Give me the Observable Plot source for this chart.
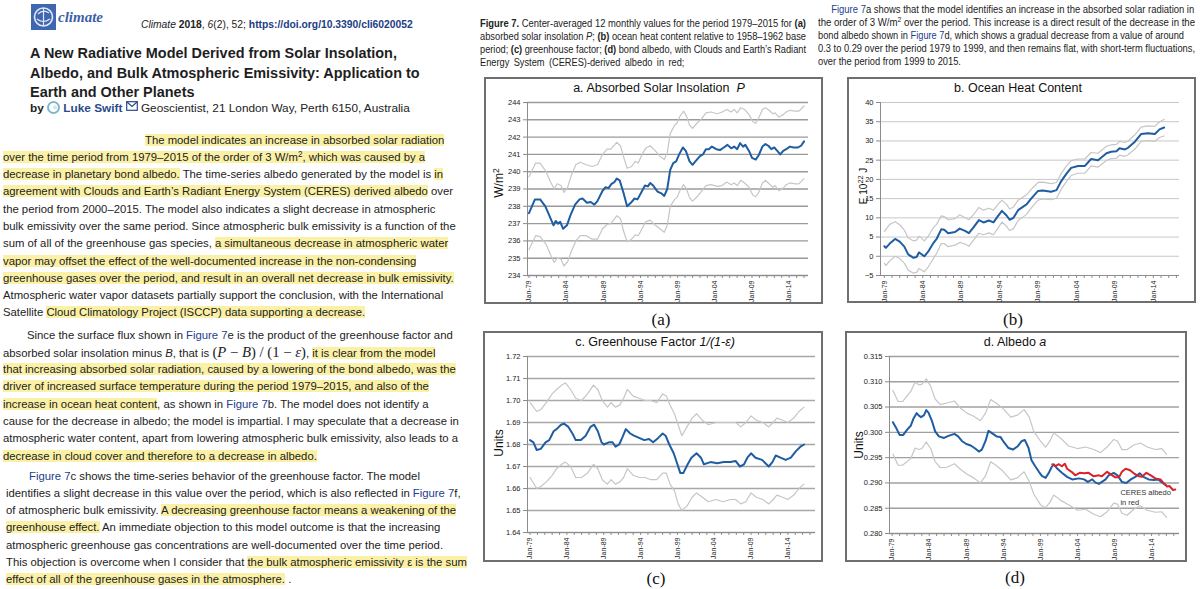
<!DOCTYPE html>
<html><head><meta charset="utf-8">
<script src="https://cdn.jsdelivr.net/npm/d3@7"></script>
<script src="https://cdn.jsdelivr.net/npm/@observablehq/plot@0.6"></script>
<style>
html,body{margin:0;padding:0;background:#fff;}
body{width:1200px;height:589px;position:relative;overflow:hidden;font-family:"Liberation Sans",Arial,sans-serif;color:#222;}
.abs{position:absolute;}
.col{position:absolute;left:0;top:0;width:475px;height:589px;overflow:hidden;}
.body{position:absolute;left:0;top:0;width:475px;font-size:13.5px;}
.p{position:absolute;}
.ln{white-space:nowrap;height:17.3px;line-height:17.3px;}
.t{display:inline-block;}
.hl{background:#fbf1a6;}
.fig{color:#23408e;}
sup{font-size:0.72em;vertical-align:0.5em;line-height:0;}
.m{font-family:"Liberation Serif","DejaVu Serif",serif;font-size:1.3em;}
.cap{position:absolute;font-size:10px;color:#222;}
.cap .cl{white-space:nowrap;height:13.1px;line-height:13.1px;transform-origin:0 50%;}
.box{position:absolute;border:2px solid #6f6f6f;box-sizing:border-box;background:#fff;}
.chart{position:absolute;}
.ttl{position:absolute;width:320px;text-align:center;font-size:12.5px;white-space:nowrap;transform:translate(-50%,-50%);color:#111;}
.ylab{position:absolute;white-space:nowrap;transform:translate(-50%,-50%) rotate(-90deg);color:#111;}
.sub{position:absolute;font-family:"Liberation Serif","DejaVu Serif",serif;font-size:17px;transform:translate(-50%,-50%);color:#111;}
</style></head>
<body>
<div class="col">
  <svg class="abs" style="left:31px;top:4px" width="25" height="26" viewBox="0 0 25 26">
    <rect x="0" y="0" width="25" height="26" fill="#3f66b0"/>
    <circle cx="12.5" cy="13" r="9" fill="none" stroke="#dfe8f6" stroke-width="1.6"/>
    <path d="M7 10 Q12 5 18 9 M6 15 Q12 20 19 15 M12.5 4 L12.5 22" fill="none" stroke="#dfe8f6" stroke-width="1.2"/>
  </svg>
  <div class="abs" style="left:58px;top:9px;font-family:'Liberation Serif',serif;font-style:italic;font-weight:bold;font-size:15px;color:#3b5fa6;">climate</div>
  <div class="abs" id="cite" style="left:141px;top:19px;font-size:11px;white-space:nowrap;"><span class="t" id="citeR"><i>Climate</i> <b>2018</b>, <i>6</i>(2), 52; <b style="color:#213d85">https://doi.org/10.3390/cli6020052</b></span></div>
  <div class="abs" id="title" style="left:30px;top:44px;font-weight:bold;font-size:16.5px;line-height:19.5px;white-space:nowrap;color:#1e1e1e;">
    <span class="t" id="titleR">A New Radiative Model Derived from Solar Insolation,</span><br>
    Albedo, and Bulk Atmospheric Emissivity: Application to<br>
    Earth and Other Planets
  </div>
  <div class="abs" id="by" style="left:30px;top:101px;font-size:13px;white-space:nowrap;"><span class="t" id="byR"><b>by</b> <svg width="13" height="13" viewBox="0 0 13 13" style="vertical-align:-2px"><circle cx="6.5" cy="6.5" r="5.5" fill="none" stroke="#7fb8c9" stroke-width="2"/><circle cx="8" cy="6.5" r="2" fill="#cfe6ee"/></svg> <b style="color:#2a4a8c">Luke Swift</b> <svg width="12" height="10" viewBox="0 0 12 10" style="vertical-align:1px"><rect x="0.7" y="0.7" width="10.6" height="8.6" fill="none" stroke="#2a4a8c" stroke-width="1.2"/><path d="M0.7 0.7 L6 5.5 L11.3 0.7" fill="none" stroke="#2a4a8c" stroke-width="1.2"/></svg> Geoscientist, 21 London Way, Perth 6150, Australia</span></div>

  <div class="body" id="bodytext">
    <div class="p" style="left:3px;top:131.5px">
      <div class="ln" style="padding-left:142px"><span class="hl">The model indicates an increase in absorbed solar radiation</span></div>
      <div class="ln"><span class="hl">over the time period from 1979–2015 of the order of 3 W/m<sup>2</sup>, which was caused by a</span></div>
      <div class="ln"><span class="hl">decrease in planetary bond albedo.</span> The time-series albedo generated by the model is <span class="hl">in</span></div>
      <div class="ln"><span class="hl">agreement with Clouds and Earth’s Radiant Energy System (CERES) derived albedo</span> over</div>
      <div class="ln">the period from 2000–2015. The model also indicates a slight decrease in atmospheric</div>
      <div class="ln"><span class="t" id="bodyR">bulk emissivity over the same period. Since atmospheric bulk emissivity is a function of the</span></div>
      <div class="ln">sum of all of the greenhouse gas species, <span class="hl">a simultaneous decrease in atmospheric water</span></div>
      <div class="ln"><span class="hl">vapor may offset the effect of the well-documented increase in the non-condensing</span></div>
      <div class="ln"><span class="hl">greenhouse gases over the period, and result in an overall net decrease in bulk emissivity.</span></div>
      <div class="ln">Atmospheric water vapor datasets partially support the conclusion, with the International</div>
      <div class="ln">Satellite <span class="hl">Cloud Climatology Project (ISCCP) data supporting a decrease.</span></div>
    </div>
    <div class="p" style="left:3px;top:326.5px">
      <div class="ln" style="padding-left:24px">Since the surface flux shown in <span class="fig">Figure 7</span>e is the product of the greenhouse factor and</div>
      <div class="ln">absorbed solar insolation minus <i>B</i>, that is <span class="m">(<i>P</i> − <i>B</i>) / (1 − <i>ε</i>)</span>, <span class="hl">it is clear from the model</span></div>
      <div class="ln"><span class="hl">that increasing absorbed solar radiation, caused by a lowering of the bond albedo, was the</span></div>
      <div class="ln"><span class="hl">driver of increased surface temperature during the period 1979–2015, and also of the</span></div>
      <div class="ln"><span class="hl">increase in ocean heat content</span>, as shown in <span class="fig">Figure 7</span>b. The model does not identify a</div>
      <div class="ln">cause for the decrease in albedo; the model is impartial. I may speculate that a decrease in</div>
      <div class="ln">atmospheric water content, apart from lowering atmospheric bulk emissivity, also leads to a</div>
      <div class="ln"><span class="hl">decrease in cloud cover and therefore to a decrease in albedo.</span></div>
    </div>
    <div class="p" style="left:6px;top:467.5px">
      <div class="ln" style="padding-left:23px"><span class="fig">Figure 7</span>c shows the time-series behavior of the greenhouse factor. The model</div>
      <div class="ln">identifies a slight decrease in this value over the period, which is also reflected in <span class="fig">Figure 7</span>f,</div>
      <div class="ln">of atmospheric bulk emissivity. <span class="hl">A decreasing greenhouse factor means a weakening of the</span></div>
      <div class="ln"><span class="hl">greenhouse effect.</span> An immediate objection to this model outcome is that the increasing</div>
      <div class="ln">atmospheric greenhouse gas concentrations are well-documented over the time period.</div>
      <div class="ln">This objection is overcome when I consider that <span class="hl">the bulk atmospheric emissivity ε is the sum</span></div>
      <div class="ln"><span class="hl">effect of all of the greenhouse gases in the atmosphere.</span> .</div>
    </div>
  </div>
</div>

<div class="cap" id="capL" style="left:480px;top:17px;">
  <div class="cl" data-w="326"><span class="t"><b>Figure 7.</b> Center-averaged 12 monthly values for the period 1979–2015 for <b>(a)</b></span></div>
  <div class="cl" data-w="326"><span class="t">absorbed solar insolation <i>P</i>; <b>(b)</b> ocean heat content relative to 1958–1962 base</span></div>
  <div class="cl" data-w="326"><span class="t">period; <b>(c)</b> greenhouse factor; <b>(d)</b> bond albedo, with Clouds and Earth’s Radiant</span></div>
  <div class="cl" style="word-spacing:2px"><span class="t">Energy System (CERES)-derived albedo in red;</span></div>
</div>
<div class="cap" id="capR" style="left:818px;top:3px;">
  <div class="cl" data-w="363" style="padding-left:14px"><span class="t"><span class="fig">Figure 7</span>a shows that the model identifies an increase in the absorbed solar radiation in</span></div>
  <div class="cl" data-w="377"><span class="t">the order of 3 W/m<sup>2</sup> over the period. This increase is a direct result of the decrease in the</span></div>
  <div class="cl" data-w="366"><span class="t">bond albedo shown in <span class="fig">Figure 7</span>d, which shows a gradual decrease from a value of around</span></div>
  <div class="cl" data-w="377"><span class="t">0.3 to 0.29 over the period 1979 to 1999, and then remains flat, with short-term fluctuations,</span></div>
  <div class="cl"><span class="t">over the period from 1999 to 2015.</span></div>
</div>

<div class="box" style="left:484px;top:77px;width:339px;height:227px"></div>
<div class="box" style="left:847px;top:77px;width:349px;height:226px"></div>
<div class="box" style="left:483px;top:331px;width:340px;height:231px"></div>
<div class="box" style="left:845px;top:331px;width:342px;height:231px"></div>
<div class="chart" id="ca" style="left:484px;top:77px"></div>
<div class="chart" id="cb" style="left:847px;top:77px"></div>
<div class="chart" id="cc" style="left:483px;top:331px"></div>
<div class="chart" id="cd" style="left:845px;top:331px"></div>

<div class="ttl" style="left:659px;top:88px">a. Absorbed Solar Insolation&nbsp; <i>P</i></div>
<div class="ttl" style="left:1018px;top:88px">b. Ocean Heat Content</div>
<div class="ttl" style="left:655px;top:342px">c. Greenhouse Factor <i>1/(1-ε)</i></div>
<div class="ttl" style="left:1015px;top:342px">d. Albedo <i>a</i></div>
<div class="ylab" style="left:499px;top:183px;font-size:12px">W/m<sup>2</sup></div>
<div class="ylab" style="left:863px;top:186px;font-size:10px">E 10<sup>22</sup> J</div>
<div class="ylab" style="left:499px;top:443px;font-size:12px">Units</div>
<div class="ylab" style="left:859px;top:445px;font-size:12px">Units</div>
<div class="sub" style="left:661px;top:320px">(a)</div>
<div class="sub" style="left:1013px;top:320px">(b)</div>
<div class="sub" style="left:656px;top:579px">(c)</div>
<div class="sub" style="left:1015px;top:578px">(d)</div>

<script>
// ---------- shared axis data ----------
const tickYears = [1979, 1984, 1989, 1994, 1999, 2004, 2009, 2014];
const tickLabels = ["Jan-79", "Jan-84", "Jan-89", "Jan-94", "Jan-99", "Jan-04", "Jan-09", "Jan-14"];
const minorYears = [1979,1980,1981,1982,1983,1984,1985,1986,1987,1988,1989,1990,1991,1992,1993,1994,1995,1996,1997,1998,1999,2000,2001,2002,2003,2004,2005,2006,2007,2008,2009,2010,2011,2012,2013,2014,2015,2016,2017];

// ---------- a. Absorbed Solar Insolation P (W/m2) ----------
const aTicks = [234, 235, 236, 237, 238, 239, 240, 241, 242, 243, 244];
const aYears = [1979.0,1979.8,1980.5,1981.2,1981.8,1982.3,1982.6,1982.9,1983.2,1983.6,1984.1,1984.6,1985.2,1985.8,1986.2,1986.8,1987.3,1987.8,1988.2,1988.9,1989.3,1989.7,1990.1,1990.5,1990.8,1991.2,1991.7,1992.2,1992.7,1993.2,1993.6,1994.1,1994.6,1995.0,1995.3,1995.7,1996.3,1996.8,1997.2,1997.6,1998.0,1998.4,1998.8,1999.2,1999.7,2000.1,2000.6,2001.0,2001.5,2002.0,2002.4,2002.8,2003.2,2003.6,2004.2,2004.7,2005.2,2005.7,2006.2,2006.6,2007.0,2007.4,2007.8,2008.1,2008.6,2009.0,2009.5,2009.9,2010.4,2010.8,2011.2,2011.6,2012.0,2012.4,2012.8,2013.2,2013.6,2014.1,2014.6,2015.2,2015.6,2016.0];
const aMid = [237.6,238.4,238.4,238.0,237.4,236.9,237.15,237.0,237.1,236.7,236.9,237.5,238.1,238.4,238.45,238.2,238.25,238.1,238.3,238.9,239.1,239.05,239.3,239.4,239.6,239.5,238.8,238.0,238.2,238.45,238.4,238.8,239.2,239.15,239.35,239.2,238.85,238.75,238.6,239.0,240.1,240.5,240.6,241.0,241.4,241.2,240.6,240.4,240.65,240.9,241.0,241.3,241.3,241.45,241.3,241.25,241.4,241.55,241.35,241.45,241.3,241.65,241.45,241.55,241.2,240.8,240.7,240.95,241.45,241.6,241.5,241.3,241.4,241.2,241.0,241.2,241.3,241.45,241.4,241.4,241.5,241.75];
const aBandYears = [1979.0,1979.9,1980.5,1981.3,1981.9,1982.4,1982.8,1983.3,1983.7,1984.2,1984.7,1985.3,1985.9,1986.7,1987.5,1988.2,1988.9,1989.5,1990.0,1990.8,1991.3,1991.7,1992.2,1992.8,1993.3,1993.7,1994.2,1994.7,1995.3,1996.0,1996.6,1997.2,1997.6,1998.0,1998.6,1998.9,1999.3,1999.8,2000.2,2000.6,2001.0,2001.6,2002.1,2002.8,2003.5,2004.3,2005.0,2005.6,2006.2,2006.6,2007.0,2007.5,2008.0,2008.6,2009.1,2009.5,2009.9,2010.4,2010.8,2011.3,2011.8,2012.1,2012.6,2013.2,2013.6,2014.1,2014.8,2015.3,2016.0];
const aUpper = [239.7,240.5,240.5,240.0,239.4,239.0,239.3,239.2,238.8,239.1,239.8,240.4,240.55,240.4,240.3,240.4,241.0,241.3,241.3,241.7,241.5,240.9,240.2,240.3,240.6,240.5,241.0,241.35,241.5,241.2,240.9,240.7,241.1,242.2,242.7,242.8,243.2,243.5,243.2,242.7,242.5,242.8,243.0,243.4,243.45,243.35,243.45,243.6,243.45,243.6,243.4,243.7,243.6,243.3,242.9,242.8,243.1,243.6,243.7,243.55,243.35,243.4,243.15,243.3,243.45,243.55,243.5,243.5,243.8];
const aLower = [235.5,236.3,236.25,235.8,235.2,234.75,235.0,234.95,234.55,234.8,235.4,236.0,236.3,236.3,236.1,236.1,236.7,236.95,237.0,237.45,237.3,236.6,235.95,236.1,236.35,236.3,236.7,237.1,237.2,236.9,236.7,236.5,236.9,238.0,238.4,238.5,238.9,239.25,239.0,238.5,238.3,238.55,238.8,239.2,239.25,239.15,239.2,239.4,239.25,239.35,239.2,239.5,239.35,239.1,238.65,238.55,238.8,239.35,239.5,239.3,239.1,239.2,238.9,239.05,239.25,239.35,239.3,239.3,239.6];

// ---------- b. Ocean Heat Content (10^22 J) ----------
const bTicks = [-5, 0, 5, 10, 15, 20, 25, 30, 35, 40];
const bYears = [1979.0,1979.2,1979.7,1980.4,1981.0,1981.6,1982.1,1982.8,1983.2,1983.5,1983.8,1984.2,1984.7,1985.4,1985.8,1986.4,1986.8,1987.3,1988.2,1988.8,1989.5,1990.0,1990.6,1991.3,1991.9,1992.6,1993.2,1993.8,1994.3,1994.9,1995.3,1995.8,1996.4,1997.5,1998.1,1999.0,1999.6,2000.7,2001.4,2002.0,2002.7,2003.3,2004.2,2005.1,2005.9,2006.8,2007.9,2008.5,2009.2,2009.6,2010.3,2010.7,2011.6,2012.4,2013.3,2014.2,2014.8,2015.4];
const bMid = [2.6,2.2,3.3,4.5,3.8,2.5,0.5,-0.4,-0.2,1.0,0.6,0.0,1.2,3.5,4.5,7.0,6.9,6.0,6.3,7.2,6.6,6.0,7.5,9.4,8.8,9.3,8.8,10.5,11.8,10.6,9.5,10.0,12.0,13.5,15.0,17.0,17.1,16.8,17.2,19.5,21.5,23.0,23.5,23.5,25.3,25.0,26.8,27.2,27.3,28.1,27.8,28.2,29.8,31.8,32.0,31.8,33.0,33.5];
const bUpper = [6.5,7.0,8.3,9.0,8.2,6.8,4.8,4.0,4.2,5.2,4.8,4.0,5.2,7.5,8.3,10.5,10.3,9.5,9.8,10.8,10.0,9.5,10.8,12.7,12.0,12.5,12.0,13.5,14.6,13.5,12.3,12.8,14.6,16.0,17.4,19.2,19.3,18.9,19.2,21.5,23.5,24.9,25.3,25.3,27.0,26.8,28.6,29.0,29.1,29.9,29.6,30.0,31.6,33.6,33.9,33.8,35.0,35.6];
const bLower = [-1.8,-2.4,-1.2,0.0,-0.6,-1.8,-3.6,-4.4,-4.2,-3.2,-3.5,-4.0,-2.8,-0.5,0.7,3.3,3.3,2.5,2.9,3.6,3.2,2.6,4.2,6.0,5.6,6.1,5.6,7.4,8.9,7.8,6.7,7.2,9.3,10.9,12.5,14.6,14.9,14.7,15.1,17.4,19.5,21.0,21.6,21.6,23.5,23.2,24.9,25.4,25.5,26.3,26.0,26.4,27.9,29.9,30.1,29.9,30.9,31.3];

// ---------- c. Greenhouse Factor 1/(1-e) ----------
const cTicks = [1.64, 1.65, 1.66, 1.67, 1.68, 1.69, 1.70, 1.71, 1.72];
const cYears = [1979.0,1979.45,1979.9,1980.45,1981.1,1981.6,1982.2,1982.6,1983.2,1983.6,1984.2,1984.75,1985.2,1985.9,1986.55,1987.2,1987.7,1988.2,1988.7,1989.0,1989.7,1990.2,1990.6,1991.1,1991.5,1992.0,1992.6,1993.1,1993.8,1994.5,1995.15,1995.7,1996.4,1997.0,1997.4,1997.9,1998.5,1999.0,1999.4,1999.8,2000.4,2000.9,2001.6,2002.2,2002.6,2003.5,2004.4,2005.3,2006.2,2006.9,2007.5,2008.05,2008.5,2009.0,2009.6,2010.5,2011.4,2011.9,2012.35,2013.0,2013.7,2014.4,2015.1,2015.7,2016.2];
const cMid = [1.682,1.681,1.6775,1.678,1.681,1.682,1.686,1.687,1.689,1.6895,1.688,1.685,1.682,1.682,1.684,1.688,1.689,1.686,1.681,1.680,1.681,1.681,1.679,1.680,1.683,1.687,1.685,1.684,1.683,1.682,1.6825,1.681,1.683,1.685,1.684,1.680,1.676,1.671,1.667,1.667,1.671,1.674,1.676,1.674,1.671,1.672,1.6715,1.672,1.672,1.6725,1.670,1.671,1.674,1.676,1.674,1.673,1.670,1.672,1.675,1.674,1.673,1.674,1.677,1.679,1.680];
const cBandYears = [1979.0,1979.9,1980.5,1981.2,1982.0,1982.6,1983.3,1983.8,1984.5,1985.2,1986.0,1986.8,1987.6,1988.2,1988.8,1989.5,1990.0,1990.6,1991.2,1991.7,1992.2,1993.0,1993.8,1994.6,1995.4,1996.2,1997.0,1997.5,1998.0,1998.6,1999.1,1999.6,2000.3,2001.0,2001.6,2002.4,2003.2,2004.2,2005.2,2006.2,2006.9,2007.6,2008.3,2009.0,2009.7,2010.6,2011.4,2012.0,2012.5,2013.3,2014.0,2014.8,2015.5,2016.2];
const cUpper = [1.699,1.695,1.696,1.699,1.703,1.705,1.707,1.708,1.705,1.701,1.700,1.703,1.707,1.705,1.700,1.697,1.699,1.697,1.698,1.701,1.705,1.702,1.701,1.700,1.700,1.699,1.703,1.702,1.698,1.694,1.689,1.684,1.688,1.692,1.694,1.691,1.689,1.690,1.690,1.690,1.690,1.688,1.690,1.693,1.691,1.690,1.688,1.690,1.692,1.691,1.690,1.692,1.695,1.697];
const cLower = [1.665,1.660,1.661,1.663,1.666,1.669,1.671,1.672,1.670,1.665,1.665,1.667,1.671,1.669,1.664,1.662,1.664,1.662,1.663,1.665,1.669,1.666,1.665,1.665,1.664,1.664,1.667,1.667,1.662,1.659,1.653,1.650,1.652,1.656,1.658,1.656,1.654,1.655,1.654,1.655,1.655,1.653,1.654,1.658,1.656,1.655,1.653,1.655,1.657,1.656,1.655,1.657,1.660,1.662];

// ---------- d. Albedo a ----------
const dTicks = [0.280, 0.285, 0.290, 0.295, 0.300, 0.305, 0.310, 0.315];
const dYears = [1979.1,1979.6,1980.0,1980.5,1981.0,1981.5,1981.9,1982.3,1982.6,1982.9,1983.3,1983.6,1983.9,1984.4,1984.8,1985.3,1986.0,1986.6,1987.4,1987.9,1988.4,1989.0,1989.6,1990.2,1990.7,1991.1,1991.6,1992.0,1992.5,1993.1,1993.6,1994.1,1994.7,1995.3,1995.9,1996.5,1996.9,1997.4,1997.8,1998.3,1998.8,1999.2,1999.7,2000.1,2000.5,2000.8,2001.3,2001.9,2002.6,2003.3,2004.2,2004.9,2005.4,2006.0,2006.4,2006.9,2007.3,2007.8,2008.2,2008.9,2009.4,2010.0,2010.6,2011.2,2011.8,2012.4,2012.9,2013.6,2014.3,2014.9,2015.5,2015.9];
const dMid = [0.3020,0.3007,0.2995,0.2995,0.3005,0.3013,0.3028,0.3038,0.3033,0.3030,0.3034,0.3044,0.3039,0.3021,0.3002,0.2992,0.2989,0.2993,0.2997,0.2992,0.2983,0.2977,0.2974,0.2968,0.2962,0.2966,0.2983,0.3003,0.2998,0.2992,0.2991,0.2980,0.2969,0.2966,0.2972,0.2983,0.2985,0.2969,0.2945,0.2933,0.2922,0.2914,0.2910,0.2919,0.2931,0.2937,0.2928,0.2920,0.2912,0.2907,0.2909,0.2907,0.2902,0.2907,0.2901,0.2898,0.2902,0.2907,0.2915,0.2920,0.2915,0.2902,0.2900,0.2907,0.2912,0.2919,0.2912,0.2907,0.2906,0.2907,0.2900,0.2896];
const dBandYears = [1979.1,1979.8,1980.4,1981.5,1982.1,1982.6,1983.0,1983.6,1984.2,1984.8,1985.5,1986.4,1987.4,1988.2,1989.1,1990.0,1990.9,1991.6,1992.3,1993.0,1993.9,1995.0,1995.9,1996.8,1997.5,1998.1,1999.0,1999.7,2000.3,2000.8,2001.7,2002.8,2004.0,2005.1,2006.2,2007.1,2008.0,2008.9,2009.4,2010.0,2010.7,2011.6,2012.5,2013.4,2014.5,2015.4,2016.0];
const dUpper = [0.3083,0.3061,0.3061,0.3081,0.3099,0.3094,0.3095,0.3106,0.3091,0.3066,0.3055,0.3058,0.3062,0.3048,0.3038,0.3032,0.3023,0.3038,0.3065,0.3058,0.3048,0.3030,0.3034,0.3045,0.3030,0.3002,0.2983,0.2971,0.2983,0.2999,0.2989,0.2973,0.2968,0.2971,0.2966,0.2960,0.2971,0.2986,0.2983,0.2966,0.2966,0.2975,0.2979,0.2971,0.2966,0.2968,0.2957];
const dLower = [0.2957,0.2935,0.2935,0.2948,0.2969,0.2966,0.2968,0.2981,0.2968,0.2942,0.2930,0.2931,0.2938,0.2927,0.2917,0.2910,0.2900,0.2914,0.2942,0.2935,0.2924,0.2906,0.2910,0.2922,0.2903,0.2878,0.2857,0.2851,0.2862,0.2876,0.2866,0.2857,0.2846,0.2848,0.2838,0.2833,0.2843,0.2860,0.2858,0.2840,0.2836,0.2848,0.2855,0.2846,0.2842,0.2843,0.2832];
const ceresYears = [2000.6,2001.0,2001.5,2001.9,2002.3,2002.6,2003.2,2003.7,2004.3,2004.9,2005.5,2006.2,2006.9,2007.3,2008.0,2008.7,2009.1,2009.6,2010.0,2010.5,2011.1,2011.6,2012.3,2012.7,2013.3,2013.9,2014.5,2015.2,2015.6,2016.1,2016.4,2016.9,2017.2];
const ceresAlbedo = [0.2937,0.2933,0.2937,0.2933,0.2938,0.2928,0.2922,0.2915,0.2920,0.2919,0.2920,0.2913,0.2915,0.2913,0.2922,0.2915,0.2911,0.2911,0.2922,0.2928,0.2925,0.2919,0.2913,0.2912,0.2920,0.2915,0.2909,0.2907,0.2900,0.2893,0.2894,0.2886,0.2887];
const ceresNote = [{x: 2009.8, y: 0.2889, label: "CERES albedo\nin red"}];

// ---------- drawing ----------
const zip = (xs, ys) => d3.range(Math.min(xs.length, ys.length)).map(i => ({x: xs[i], y: ys[i]}));
const BLUE = "#1f5da2", GRAY = "#c6c6c6", RED = "#d8232a", AX = "#8c8c8c";

function drawChart(o) {
  const lo = o.yDom[0];
  const inDom = v => v >= o.xDom[0] && v <= o.xDom[1];
  const marks = [
    Plot.gridY(o.yTicks, {stroke: o.gridColor, strokeOpacity: 1, strokeWidth: o.gridWidth}),
    Plot.ruleX([o.xDom[0]], {stroke: AX, strokeWidth: 1}),
    Plot.ruleY([lo], {stroke: AX, strokeWidth: 1}),
    Plot.axisY(o.yTicks, {tickSize: 4, tickPadding: 3, tickFormat: o.fmt, fontSize: 7.5, label: null, stroke: AX, fill: "#222"}),
    Plot.axisX(minorYears.filter(inDom), {tickSize: 3, tickFormat: () => "", label: null, stroke: AX}),
    Plot.axisX(tickYears, {tickSize: 0, tickPadding: 5, tickRotate: -90, tickFormat: d => tickLabels[tickYears.indexOf(d)], fontSize: 7, label: null, fill: "#222"}),
    Plot.line(zip(o.bandYears, o.upper), {x: "x", y: "y", stroke: GRAY, strokeWidth: 1.2}),
    Plot.line(zip(o.bandYears, o.lower), {x: "x", y: "y", stroke: GRAY, strokeWidth: 1.2}),
    Plot.line(zip(o.years, o.mid), {x: "x", y: "y", stroke: BLUE, strokeWidth: 2})
  ];
  if (o.extra) marks.push(...o.extra);
  const svg = Plot.plot({
    width: o.w, height: o.h,
    marginLeft: o.ml, marginRight: o.mr, marginTop: o.mt, marginBottom: o.mb,
    x: {domain: o.xDom},
    y: {domain: o.yDom},
    style: {background: "transparent", fontFamily: "'Liberation Sans', Arial, sans-serif", fontSize: "8px", overflow: "visible"},
    marks
  });
  document.getElementById(o.id).appendChild(svg);
}

drawChart({id: "ca", w: 339, h: 227, ml: 43, mr: 15, mt: 25, mb: 29,
  xDom: [1978.8, 2016.6], yDom: [234, 244], yTicks: aTicks, fmt: d3.format("d"),
  gridColor: "#9a9a9a", gridWidth: 1.4,
  years: aYears, mid: aMid, bandYears: aBandYears, upper: aUpper, lower: aLower});

drawChart({id: "cb", w: 349, h: 226, ml: 33, mr: 17, mt: 25, mb: 28,
  xDom: [1978.5, 2017.4], yDom: [-5, 40], yTicks: bTicks, fmt: d3.format("d"),
  gridColor: "#c8c8c8", gridWidth: 1,
  years: bYears, mid: bMid, bandYears: bYears, upper: bUpper, lower: bLower});

drawChart({id: "cc", w: 340, h: 231, ml: 44, mr: 8, mt: 25, mb: 30,
  xDom: [1978.65, 2017.75], yDom: [1.64, 1.72], yTicks: cTicks, fmt: d3.format(".2f"),
  gridColor: "#a8a8a8", gridWidth: 1.4,
  years: cYears, mid: cMid, bandYears: cBandYears, upper: cUpper, lower: cLower});

drawChart({id: "cd", w: 342, h: 231, ml: 44, mr: 8, mt: 25, mb: 29,
  xDom: [1978.64, 2017.77], yDom: [0.280, 0.315], yTicks: dTicks, fmt: d3.format(".3f"),
  gridColor: "#a0a0a0", gridWidth: 1.4,
  years: dYears, mid: dMid, bandYears: dBandYears, upper: dUpper, lower: dLower,
  extra: [
    Plot.line(zip(ceresYears, ceresAlbedo), {x: "x", y: "y", stroke: RED, strokeWidth: 2}),
    Plot.text(ceresNote, {x: "x", y: "y", text: "label", textAnchor: "start", lineAnchor: "top", fontSize: 7.5, fill: "#333", lineHeight: 1.25})
  ]});

// ---------- text fitting ----------
function fitFont(el, ref, target) {
  const w = ref.getBoundingClientRect().width;
  const fs = parseFloat(getComputedStyle(el).fontSize);
  el.style.fontSize = (fs * target / w).toFixed(3) + "px";
}
fitFont(document.getElementById("bodytext"), document.getElementById("bodyR"), 453);
fitFont(document.getElementById("title"), document.getElementById("titleR"), 367);
fitFont(document.getElementById("by"), document.getElementById("byR"), 378);
fitFont(document.getElementById("cite"), document.getElementById("citeR"), 272);

document.querySelectorAll(".cap").forEach(cap => {
  let last = 1;
  cap.querySelectorAll(".cl").forEach(line => {
    const span = line.querySelector(".t");
    const tw = line.getAttribute("data-w");
    if (tw) { last = +tw / span.getBoundingClientRect().width; }
    line.style.transform = "scaleX(" + last.toFixed(4) + ")";
  });
});
</script>
</body></html>
